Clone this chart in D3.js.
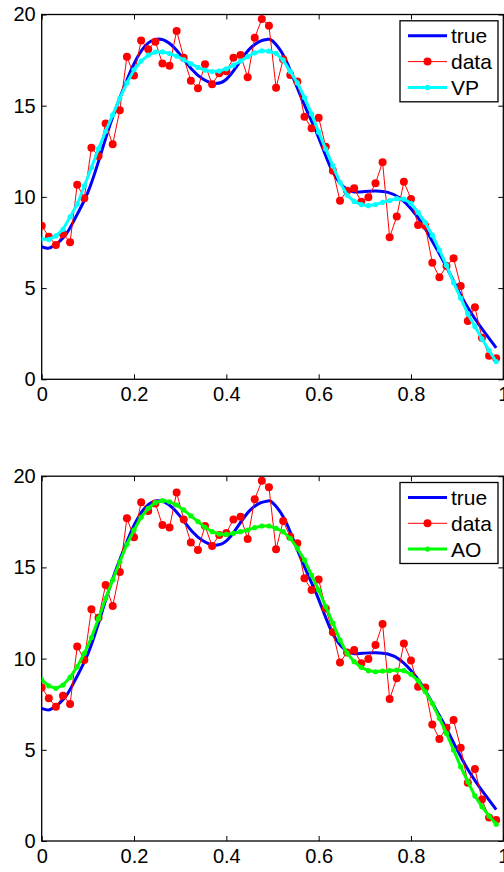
<!DOCTYPE html>
<html>
<head>
<meta charset="utf-8">
<script src="https://cdn.jsdelivr.net/npm/d3@7"></script>
<style>
  html, body { margin: 0; padding: 0; background: #fff; }
  svg { display: block; }
  text { font-family: "Liberation Sans", Arial, Helvetica, sans-serif; fill: #000; }
</style>
</head>
<body>
<div id="chart"></div>
<script>
// Tick values and labels
const xTicks = [0, 0.2, 0.4, 0.6, 0.8, 1];
const xTickLabels = ["0", "0.2", "0.4", "0.6", "0.8", "1"];
const yTicks = [0, 5, 10, 15, 20];

// Sample positions of the noisy measurements and the fitted curves
const sampleX = [0, 0.0154, 0.0308, 0.0462, 0.0615, 0.0769, 0.0923, 0.1077, 0.1231, 0.1385,
  0.1538, 0.1692, 0.1846, 0.2, 0.2154, 0.2308, 0.2462, 0.2615, 0.2769, 0.2923,
  0.3077, 0.3231, 0.3385, 0.3538, 0.3692, 0.3846, 0.4, 0.4154, 0.4308, 0.4462,
  0.4615, 0.4769, 0.4923, 0.5077, 0.5231, 0.5385, 0.5538, 0.5692, 0.5846, 0.6,
  0.6154, 0.6308, 0.6462, 0.6615, 0.6769, 0.6923, 0.7077, 0.7231, 0.7385, 0.7538,
  0.7692, 0.7846, 0.8, 0.8154, 0.8308, 0.8462, 0.8615, 0.8769, 0.8923, 0.9077,
  0.9231, 0.9385, 0.9538, 0.9692, 0.9846];

// Noisy measurements
const dataY = [8.42, 7.82, 7.36, 7.97, 7.51, 10.67, 9.93, 12.70, 12.24, 14.03,
  12.88, 14.75, 17.69, 16.65, 18.57, 18.09, 18.51, 17.32, 17.19, 19.10,
  17.63, 16.37, 15.95, 17.27, 16.17, 16.78, 16.89, 17.63, 17.78, 16.56,
  18.73, 19.75, 19.39, 15.99, 17.54, 16.68, 16.32, 14.40, 13.76, 14.34,
  12.75, 11.44, 9.79, 10.34, 10.47, 9.74, 9.98, 10.75, 11.90, 7.79,
  8.92, 10.83, 9.89, 8.46, 8.42, 6.39, 5.59, 6.21, 6.63, 5.11,
  3.20, 3.95, 2.28, 1.29, 1.15];

// VP estimate
const vpY = [7.69, 7.66, 7.86, 8.22, 8.9, 9.6, 10.6, 11.6, 12.65, 13.6,
  14.5, 15.4, 16.25, 16.97, 17.45, 17.77, 17.94, 17.95, 17.86, 17.72,
  17.52, 17.3, 17.1, 16.95, 16.87, 16.9, 17.02, 17.22, 17.45, 17.69,
  17.9, 18.01, 17.99, 17.87, 17.5, 16.88, 16.25, 15.45, 14.55, 13.55,
  12.62, 11.7, 10.8, 10.1, 9.75, 9.58, 9.52, 9.58, 9.7, 9.8,
  9.9, 9.88, 9.65, 9.15, 8.6, 7.9, 7.1, 6.25, 5.3, 4.45,
  3.6, 2.9, 2.22, 1.58, 0.97];

// AO estimate
const aoY = [8.83, 8.50, 8.37, 8.55, 8.97, 9.56, 10.29, 11.15, 12.2, 13.3,
  14.31, 15.31, 16.27, 17.05, 17.75, 18.24, 18.55, 18.66, 18.6, 18.42,
  18.15, 17.82, 17.51, 17.2, 16.96, 16.83, 16.81, 16.87, 16.96, 17.05,
  17.18, 17.27, 17.27, 17.14, 16.96, 16.59, 16.05, 15.41, 14.58, 13.76,
  12.85, 11.94, 11.02, 10.3, 9.83, 9.52, 9.34, 9.28, 9.32, 9.34,
  9.37, 9.34, 9.14, 8.79, 8.19, 7.55, 6.73, 5.9, 4.99, 4.07,
  3.25, 2.47, 1.88, 1.37, 0.92];

// Underlying true signal, sampled on a finer grid
const trueX = [0, 0.014, 0.025, 0.05, 0.075, 0.1, 0.125, 0.15, 0.175, 0.2,
  0.225, 0.25, 0.275, 0.3, 0.325, 0.35, 0.375, 0.4, 0.425, 0.45,
  0.475, 0.49, 0.5, 0.525, 0.55, 0.575, 0.6, 0.625, 0.65, 0.675,
  0.7, 0.725, 0.75, 0.775, 0.8, 0.825, 0.85, 0.875, 0.9, 0.925,
  0.95, 0.975, 0.9846];
const trueY = [7.27, 7.18, 7.3, 7.85, 8.95, 10.25, 12.1, 14.1, 15.8, 17.3,
  18.3, 18.65, 18.45, 17.8, 17.0, 16.45, 16.22, 16.45, 17.25, 18.1,
  18.55, 18.64, 18.55, 17.7, 16.2, 14.7, 13.25, 11.66, 10.65, 10.28,
  10.3, 10.32, 10.25, 9.95, 9.35, 8.5, 7.4, 6.25, 5.0, 3.85,
  2.9, 2.05, 1.72];

const W = 504, H = 872;
const svg = d3.select("#chart").append("svg")
  .attr("width", W).attr("height", H);
svg.append("rect").attr("width", W).attr("height", H).attr("fill", "#fff");

const x = d3.scaleLinear().domain([0, 1]).range([41.7, 503.3]);

const panels = [
  { top: 14.5, bottom: 379.3, fit: vpY, color: "#00ffff", name: "VP" },
  { top: 476.2, bottom: 841, fit: aoY, color: "#00ff00", name: "AO" }
];

panels.forEach(p => {
  const y = d3.scaleLinear().domain([0, 20]).range([p.bottom, p.top]);
  const g = svg.append("g");

  // axes with inward ticks on all four sides
  const fontSize = 20;
  const bottomAxis = d3.axisBottom(x).tickValues(xTicks)
    .tickFormat((d, i) => xTickLabels[i]).tickSizeInner(-5).tickSizeOuter(0).tickPadding(8);
  const topAxis = d3.axisTop(x).tickValues(xTicks).tickFormat("")
    .tickSizeInner(-5).tickSizeOuter(0);
  const leftAxis = d3.axisLeft(y).tickValues(yTicks).tickFormat(d3.format("d"))
    .tickSizeInner(-5).tickSizeOuter(0).tickPadding(6);
  const rightAxis = d3.axisRight(y).tickValues(yTicks).tickFormat("")
    .tickSizeInner(-5).tickSizeOuter(0);

  const axes = [
    g.append("g").attr("transform", `translate(0,${p.bottom})`).call(bottomAxis),
    g.append("g").attr("transform", `translate(0,${p.top})`).call(topAxis),
    g.append("g").attr("transform", `translate(${x(0)},0)`).call(leftAxis),
    g.append("g").attr("transform", `translate(${x(1)},0)`).call(rightAxis)
  ];
  axes.forEach(a => {
    a.select(".domain").remove();
    a.selectAll("line").attr("stroke", "#000").attr("stroke-width", 1);
    a.selectAll("text").attr("font-size", fontSize)
      .attr("font-family", '"Liberation Sans", Arial, sans-serif').attr("fill", "#000");
  });

  // plot box
  g.append("rect")
    .attr("x", x(0)).attr("y", p.top)
    .attr("width", x(1) - x(0)).attr("height", p.bottom - p.top)
    .attr("fill", "none").attr("stroke", "#000").attr("stroke-width", 1.3);

  const clipId = "clip-" + p.name;
  svg.append("clipPath").attr("id", clipId)
    .append("rect").attr("x", x(0)).attr("y", p.top)
    .attr("width", x(1) - x(0)).attr("height", p.bottom - p.top);
  const plot = g.append("g").attr("clip-path", `url(#${clipId})`);

  // true signal
  const trueLine = d3.line().x((d, i) => x(trueX[i])).y(d => y(d)).curve(d3.curveNatural);
  plot.append("path").datum(trueY).attr("d", trueLine)
    .attr("fill", "none").attr("stroke", "#0000ff").attr("stroke-width", 3);

  // noisy data
  const sampleLine = d3.line().x((d, i) => x(sampleX[i])).y(d => y(d));
  plot.append("path").datum(dataY).attr("d", sampleLine)
    .attr("fill", "none").attr("stroke", "#ff0000").attr("stroke-width", 1);
  plot.selectAll("circle.data").data(dataY).enter().append("circle")
    .attr("class", "data")
    .attr("cx", (d, i) => x(sampleX[i])).attr("cy", d => y(d))
    .attr("r", 4).attr("fill", "#ff0000");

  // estimate
  plot.append("path").datum(p.fit).attr("d", sampleLine)
    .attr("fill", "none").attr("stroke", p.color).attr("stroke-width", 3);
  plot.selectAll("circle.fit").data(p.fit).enter().append("circle")
    .attr("class", "fit")
    .attr("cx", (d, i) => x(sampleX[i])).attr("cy", d => y(d))
    .attr("r", 2.6).attr("fill", p.color);

  // legend
  const lx = 400, ly = p.top + 6.3, lw = 98, lh = 81;
  const leg = g.append("g");
  leg.append("rect").attr("x", lx).attr("y", ly).attr("width", lw).attr("height", lh)
    .attr("fill", "#fff").attr("stroke", "#000").attr("stroke-width", 1.3);
  const entries = [
    { label: "true", color: "#0000ff", width: 3, marker: 0 },
    { label: "data", color: "#ff0000", width: 1, marker: 4 },
    { label: p.name, color: p.color, width: 3, marker: 2.6 }
  ];
  entries.forEach((e, i) => {
    const cy = ly + 15 + i * 25.8;
    leg.append("line").attr("x1", lx + 8).attr("x2", lx + 47)
      .attr("y1", cy).attr("y2", cy)
      .attr("stroke", e.color).attr("stroke-width", e.width);
    if (e.marker) {
      leg.append("circle").attr("cx", lx + 27.5).attr("cy", cy)
        .attr("r", e.marker).attr("fill", e.color);
    }
    leg.append("text").attr("x", lx + 51).attr("y", cy).attr("dy", "0.36em")
      .attr("font-size", 21).text(e.label);
  });
});
</script>
</body>
</html>
